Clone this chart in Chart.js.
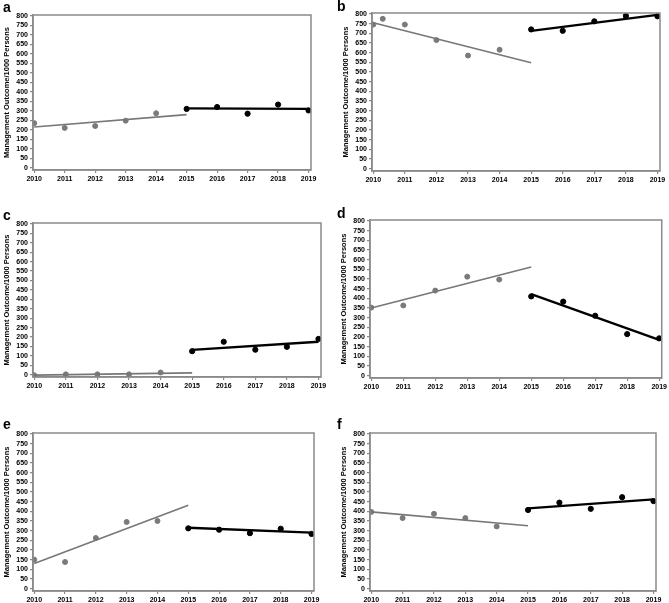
<!DOCTYPE html>
<html lang="en">
<head>
  <meta charset="UTF-8">
  <title>Management Outcome / 1000 Persons, 2010-2019</title>
  <script src="https://cdn.jsdelivr.net/npm/chart.js"></script>
  <style>
    body {
      margin: 0;
      background: #fff;
      font-family: "Liberation Sans", Arial, sans-serif;
    }
    #page {
      position: relative;
      width: 669px;
      height: 603px;
    }
    .cell {
      position: absolute;
    }
    .cell canvas {
      position: absolute;
      left: 0;
      top: 0;
    }
    .letter {
      position: absolute;
      font-weight: bold;
      font-size: 14px;
      line-height: 14px;
      color: #000;
    }
  </style>
</head>
<body>
  <div id="page"></div>

  <script>
    // years and tick labels
    const preYears = [2010, 2011, 2012, 2013, 2014];
    const preYearsB = [2010, 2010.3, 2011, 2012, 2013, 2014];
    const postYears = [2015, 2016, 2017, 2018, 2019];
    const preFitYears = [2010, 2015];
    const postFitYears = [2015, 2019];
    const xTicks = [2010, 2011, 2012, 2013, 2014, 2015, 2016, 2017, 2018, 2019];
    const yTicks = [0, 50, 100, 150, 200, 250, 300, 350, 400, 450, 500, 550, 600, 650, 700, 750, 800];
    const yTitle = 'Management Outcome/1000 Persons';

    // values
    const aPre = [235, 210, 220, 248, 287];
    const aPost = [310, 320, 285, 333, 302];
    const aPreFit = [215, 280];
    const aPostFit = [313, 310];

    const bPre = [745, 775, 745, 665, 585, 615];
    const bPost = [720, 713, 762, 790, 788];
    const bPreFit = [755, 548];
    const bPostFit = [713, 795];

    const cPre = [-3, 2, 2, 2, 12];
    const cPost = [125, 175, 133, 148, 190];
    const cPreFit = [-2, 10];
    const cPostFit = [132, 175];

    const dPre = [352, 363, 440, 512, 497];
    const dPost = [410, 383, 310, 215, 193];
    const dPreFit = [350, 562];
    const dPostFit = [422, 185];

    const ePre = [150, 138, 262, 345, 350];
    const ePost = [312, 305, 287, 310, 283];
    const ePreFit = [130, 432];
    const ePostFit = [315, 290];

    const fPre = [397, 365, 387, 365, 322];
    const fPost = [407, 445, 413, 473, 453];
    const fPreFit = [397, 325];
    const fPostFit = [415, 462];

    // panel placement: cell box + plot area in page pixels
    const panels = [
      { id: 'a', cell: [0, 0, 334, 200], plot: [33, 15, 311, 170], letter: [3, 0],
        preX: preYears, pre: aPre, post: aPost, preFit: aPreFit, postFit: aPostFit },
      { id: 'b', cell: [334, 0, 335, 200], plot: [372, 13, 660, 171], letter: [337, -1],
        preX: preYearsB, pre: bPre, post: bPost, preFit: bPreFit, postFit: bPostFit },
      { id: 'c', cell: [0, 200, 334, 200], plot: [33, 223, 321, 377], letter: [3, 208],
        preX: preYears, pre: cPre, post: cPost, preFit: cPreFit, postFit: cPostFit },
      { id: 'd', cell: [334, 200, 335, 200], plot: [370, 220, 664, 378], letter: [337, 206],
        preX: preYears, pre: dPre, post: dPost, preFit: dPreFit, postFit: dPostFit },
      { id: 'e', cell: [0, 400, 334, 203], plot: [33, 433, 314, 591], letter: [3, 417],
        preX: preYears, pre: ePre, post: ePost, preFit: ePreFit, postFit: ePostFit },
      { id: 'f', cell: [334, 400, 335, 203], plot: [370, 433, 656, 591], letter: [337, 417],
        preX: preYears, pre: fPre, post: fPost, preFit: fPreFit, postFit: fPostFit }
    ];

    const Y_AXIS_W = 33;
    const X_AXIS_H = 12;

    function pts(xs, ys) {
      return xs.map((x, i) => ({ x: x, y: ys[i] }));
    }

    // box round the plot area
    const framePlugin = {
      id: 'frame',
      afterDraw(chart) {
        const a = chart.chartArea;
        const ctx = chart.ctx;
        ctx.save();
        ctx.strokeStyle = '#8a8a8a';
        ctx.lineWidth = 1.5;
        ctx.strokeRect(a.left, a.top, a.right - a.left, a.bottom - a.top);
        ctx.restore();
      }
    };

    const page = document.getElementById('page');

    panels.forEach(p => {
      const [cx, cy, cw, ch] = p.cell;
      const [l, t, r, b] = p.plot;

      const cell = document.createElement('div');
      cell.className = 'cell';
      cell.style.left = cx + 'px';
      cell.style.top = cy + 'px';
      cell.style.width = cw + 'px';
      cell.style.height = ch + 'px';
      const canvas = document.createElement('canvas');
      canvas.width = cw;
      canvas.height = ch;
      cell.appendChild(canvas);
      page.appendChild(cell);

      const letter = document.createElement('div');
      letter.className = 'letter';
      letter.textContent = p.id;
      letter.style.left = p.letter[0] + 'px';
      letter.style.top = p.letter[1] + 'px';
      page.appendChild(letter);

      new Chart(canvas, {
        type: 'scatter',
        data: {
          datasets: [
            {
              data: pts(preFitYears, p.preFit),
              showLine: true,
              borderColor: '#777',
              borderWidth: 1.6,
              pointRadius: 0
            },
            {
              data: pts(postFitYears, p.postFit),
              showLine: true,
              borderColor: '#000',
              borderWidth: 2.3,
              pointRadius: 0
            },
            {
              data: pts(p.preX, p.pre),
              backgroundColor: '#7a7a7a',
              borderColor: '#7a7a7a',
              pointRadius: 2.5
            },
            {
              data: pts(postYears, p.post),
              backgroundColor: '#000',
              borderColor: '#000',
              pointRadius: 2.6
            }
          ]
        },
        options: {
          responsive: false,
          animation: false,
          layout: {
            padding: {
              left: l - cx - Y_AXIS_W,
              top: t - cy,
              right: cx + cw - r,
              bottom: Math.max(0, cy + ch - b - X_AXIS_H)
            }
          },
          plugins: {
            legend: { display: false },
            tooltip: { enabled: false }
          },
          scales: {
            x: {
              type: 'linear',
              min: 2009.96,
              max: 2019.08,
              afterBuildTicks: s => { s.ticks = xTicks.map(v => ({ value: v })); },
              afterFit: s => { s.height = X_AXIS_H; },
              grid: { drawOnChartArea: false, drawTicks: true, tickLength: 3, color: '#8a8a8a', lineWidth: 1.2 },
              border: { color: '#8a8a8a', width: 1.5 },
              ticks: {
                color: '#000',
                padding: 2,
                maxRotation: 0,
                autoSkip: false,
                font: { family: 'Liberation Sans', size: 7, weight: 'bold' },
                callback: v => String(v)
              }
            },
            y: {
              min: -12,
              max: 805,
              afterBuildTicks: s => { s.ticks = yTicks.map(v => ({ value: v })); },
              afterFit: s => { s.width = Y_AXIS_W; },
              grid: { drawOnChartArea: false, drawTicks: true, tickLength: 3, color: '#8a8a8a', lineWidth: 1.2 },
              border: { color: '#8a8a8a', width: 1.5 },
              ticks: {
                color: '#000',
                padding: 2,
                autoSkip: false,
                font: { family: 'Liberation Sans', size: 7, weight: 'bold' }
              },
              title: {
                display: true,
                text: yTitle,
                color: '#000',
                padding: { top: 2, bottom: 0 },
                font: { family: 'Liberation Sans', size: 7.5, weight: 'bold' }
              }
            }
          }
        },
        plugins: [framePlugin]
      });
    });
  </script>
</body>
</html>
